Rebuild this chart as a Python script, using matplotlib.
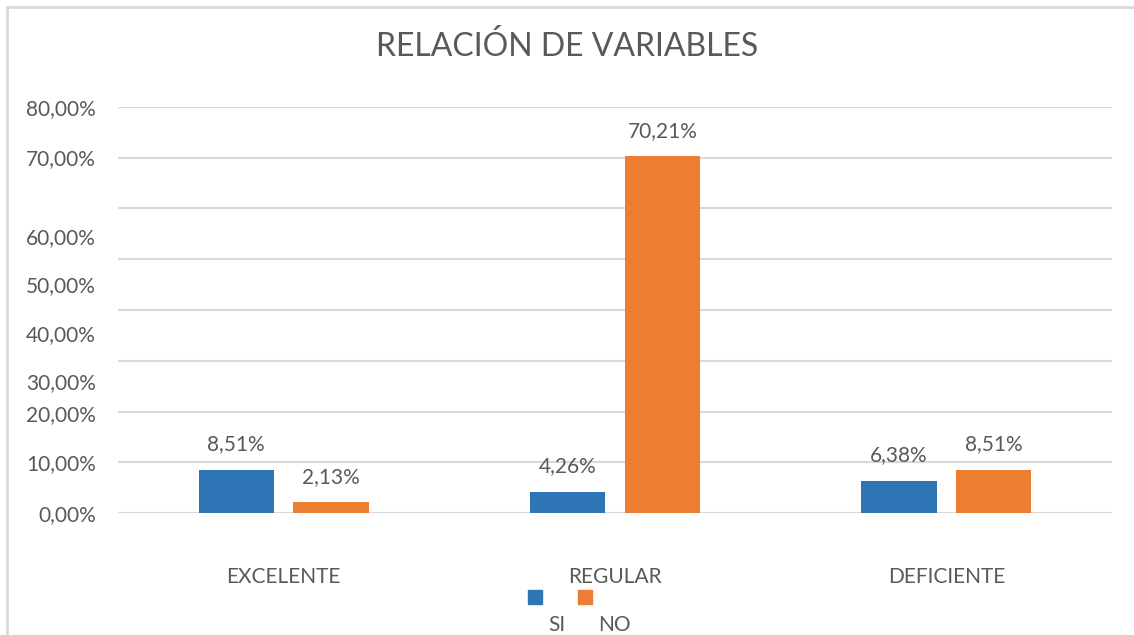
import matplotlib.pyplot as plt
import numpy as np
from matplotlib.patches import Rectangle
from matplotlib.lines import Line2D

plt.rcParams['font.family'] = ['Lato', 'DejaVu Sans']

categories = ['EXCELENTE', 'REGULAR', 'DEFICIENTE']
si_values = [8.51, 4.26, 6.38]
no_values = [2.13, 70.21, 8.51]
series_names = ['SI', 'NO']

# the y labels in the original sit where they sit, not always on the gridlines
ytick_pos = [0, 10, 19.7, 26.0, 35.5, 45.1, 54.6, 70, 80]
ytick_labels = ['0,00%', '10,00%', '20,00%', '30,00%', '40,00%', '50,00%', '60,00%', '70,00%', '80,00%']
grid_levels = [0, 10, 20, 30, 40, 50, 60, 70, 80]

blue = '#2E75B6'
orange = '#ED7D31'
txt = '#595959'
fs = 15

W, H = 1134, 635
fig = plt.figure(figsize=(W / 100, H / 100), dpi=100)

# outer frame (left and top edges only visible)
fig.add_artist(Line2D([7 / W, 7 / W], [0, 1 - 7 / H], color='#D9D9D9', lw=2))
fig.add_artist(Line2D([7 / W, 1], [1 - 7 / H, 1 - 7 / H], color='#D9D9D9', lw=2))

ax = fig.add_axes([118 / W, (H - 513.3) / H, (1112 - 118) / W, (513.3 - 106.7) / H])

x = np.arange(len(categories))
w = 0.227
off = 0.143
b1 = ax.bar(x - off, si_values, w, color=blue)
b2 = ax.bar(x + off, no_values, w, color=orange)

for bars, vals in ((b1, si_values), (b2, no_values)):
    for r, v in zip(bars, vals):
        ax.annotate(f"{v:.2f}%".replace('.', ','), (r.get_x() + r.get_width() / 2, v),
                    xytext=(0, 18.5), textcoords='offset points', ha='center', va='center',
                    fontsize=fs, color=txt)

ax.set_xlim(-0.5, 2.5)
ax.set_ylim(0, 80)
for g in grid_levels:
    ax.axhline(g, color='#D9D9D9', lw=1.5, zorder=0)

ax.set_yticks(ytick_pos)
ax.set_yticklabels(ytick_labels)
ax.set_xticks(x)
ax.set_xticklabels(categories)
ax.tick_params(axis='y', length=0, pad=16, labelsize=fs, labelcolor=txt)
ax.tick_params(axis='x', length=0, pad=39, labelsize=fs, labelcolor=txt)
for s in ax.spines.values():
    s.set_visible(False)

fig.text(0.5, 1 - 46 / H, 'RELACIÓN DE VARIABLES', ha='center', va='center',
         fontsize=23, color=txt)

# legend: squares on one row, names underneath
for i, (name, col) in enumerate(zip(series_names, [blue, orange])):
    sx = 528 + i * 50
    fig.add_artist(Rectangle((sx / W, (H - 604) / H), 14 / W, 14 / H, color=col,
                             transform=fig.transFigure))
    fig.text((557 + i * 57) / W, (H - 625) / H, name, ha='center', va='center',
             fontsize=fs, color=txt)

fig.savefig('out.png', dpi=100)
